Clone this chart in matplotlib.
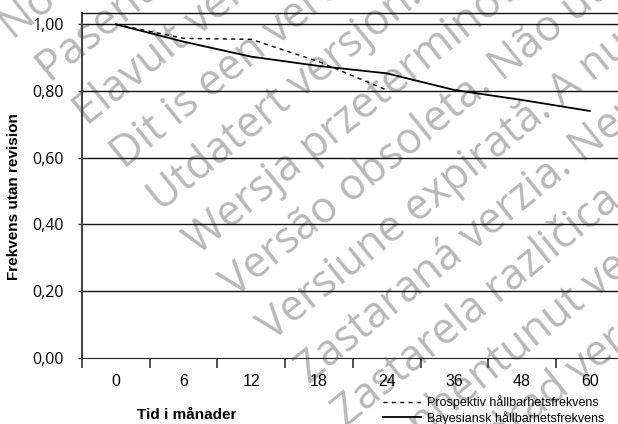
import matplotlib
matplotlib.use("Agg")
import matplotlib.pyplot as plt

# data
kategorier = ["0", "6", "12", "18", "24", "36", "48", "60"]
bayesiansk = [1.00, 0.948, 0.903, 0.875, 0.853, 0.803, 0.773, 0.740]
prospektiv = [1.00, 0.958, 0.955, 0.888, 0.803]
y_ticks = [0.0, 0.2, 0.4, 0.6, 0.8, 1.0]
y_labels = ["0,00", "0,20", "0,40", "0,60", "0,80", "1,00"]

vattenmarke = [
    "Novecojusi versija. Neizmantot.",
    "Pasenusi versija. Nenaudokite.",
    "Elavult verzió. Ne használja!",
    "Dit is een verouderde versie. Niet gebruiken.",
    "Utdatert versjon. Skal ikke brukes.",
    "Wersja przeterminowana. Nie używać.",
    "Versão obsoleta. Não utilize.",
    "Versiune expirată. A nu se utiliza.",
    "Zastaraná verzia. Nepoužívať.",
    "Zastarela različica. Ne uporabite.",
    "Vanhentunut versio. Älä käytä.",
    "Föråldrad version. Använd ej.",
]

W, H = 618, 424
fig = plt.figure(figsize=(W / 100, H / 100), dpi=100)

# watermark behind the chart
for i, rad in enumerate(vattenmarke):
    px = 13 + i * 37
    py = 40 + i * 43
    fig.text(px / W, 1 - py / H, rad, rotation=39, rotation_mode="anchor",
             ha="left", va="baseline", fontsize=31, family="Open Sans",
             color="#b8b8b8", zorder=-1)

left, right, bottom, top = 82, 623.6, 357.5, 12.7
ax = fig.add_axes([left / W, 1 - bottom / H, (right - left) / W, (bottom - top) / H])
ax.set_facecolor("none")

x = list(range(len(kategorier)))
ax.plot(x, bayesiansk, color="black", lw=1.3, label="Bayesiansk hållbarhetsfrekvens", zorder=3)
ax.plot(x[:len(prospektiv)], prospektiv, color="black", lw=1.0, ls=(0, (3, 3)),
        label="Prospektiv hållbarhetsfrekvens", zorder=3)

ax.set_xlim(-0.5, len(kategorier) - 0.5)
ax.set_ylim(0, 1.035)

for v in y_ticks[1:]:
    ax.axhline(v, color="#111111", lw=1.0, zorder=2)

ax.set_yticks(y_ticks)
ax.set_yticklabels(y_labels, family="Open Sans", fontsize=11.5)
ax.tick_params(axis="y", length=3, width=1, color="#333333", pad=10)

ax.set_xticks([i - 0.5 for i in x])
ax.set_xticklabels([])
ax.set_xticks(x, minor=True)
ax.set_xticklabels(kategorier, minor=True, family="Liberation Sans", fontsize=11.5)
ax.tick_params(axis="x", which="major", length=7, width=1.2, color="#333333")
ax.tick_params(axis="x", which="minor", length=0, pad=12)

ax.spines["right"].set_visible(False)
ax.spines["left"].set_color("#444444")
ax.spines["left"].set_linewidth(1.5)
ax.spines["bottom"].set_color("#222222")
ax.spines["top"].set_color("#111111")
ax.spines["top"].set_linewidth(1.0)

fig.text(14 / W, 1 - 197 / H, "Frekvens utan revision", rotation=90, ha="center",
         va="center", family="Liberation Sans", weight="bold", fontsize=11)
fig.text(187 / W, 1 - 415 / H, "Tid i månader", ha="center", va="center",
         family="Liberation Sans", weight="bold", fontsize=11)

handles, labels = ax.get_legend_handles_labels()
fig.legend(handles[::-1], labels[::-1], loc="upper left",
           bbox_to_anchor=(383 / W, 1 - 395 / H), frameon=False,
           prop={"family": "Liberation Sans", "size": 9}, borderpad=0,
           borderaxespad=0, handlelength=3.0, handletextpad=0.5,
           labelspacing=0.15)

fig.savefig("out.png", dpi=100)
